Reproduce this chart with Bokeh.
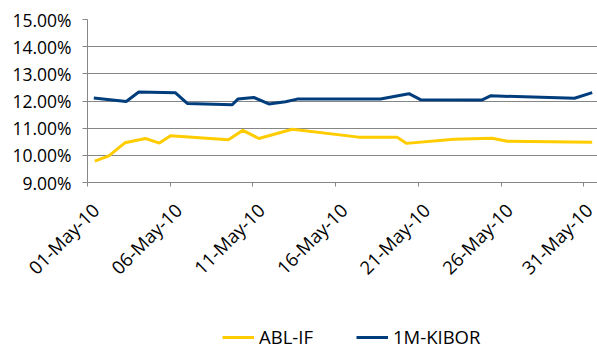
from bokeh.plotting import figure
from bokeh.layouts import column
from bokeh.models import (FixedTicker, PrintfTickFormatter, Legend, LegendItem,
                          Range1d, LinearAxis, CustomLabelingPolicy)
from bokeh.embed import file_html
from bokeh.resources import INLINE
import math

# x axis: day of May 2010 (positions)
tick_days = [1, 6, 11, 16, 21, 26, 31]
tick_labels = ["01-May-10", "06-May-10", "11-May-10", "16-May-10",
               "21-May-10", "26-May-10", "31-May-10"]
y_ticks = [9, 10, 11, 12, 13, 14, 15]

abl_days = [1.44, 2.29, 3.26, 4.51, 5.35, 6.02, 9.52, 10.39, 11.36, 13.38,
            17.40, 19.72, 20.29, 23.15, 25.47, 26.37, 31.51]
abl_rates = [9.79, 9.98, 10.46, 10.62, 10.45, 10.72, 10.57, 10.92, 10.62, 10.96,
             10.67, 10.67, 10.44, 10.59, 10.63, 10.52, 10.48]

kibor_days = [1.38, 3.34, 4.10, 6.32, 7.03, 9.75, 10.09, 11.05, 11.96, 12.97,
              13.68, 18.71, 20.43, 21.13, 24.86, 25.36, 30.44, 31.51]
kibor_rates = [12.11, 11.98, 12.33, 12.30, 11.91, 11.86, 12.07, 12.13, 11.89, 11.97,
               12.07, 12.07, 12.27, 12.05, 12.04, 12.19, 12.10, 12.31]

series_names = ["ABL-IF", "1M-KIBOR"]
series_colors = ["#FFCC00", "#003D7C"]

FONT = "Open Sans"
GRID = "#868686"
LABEL_SHIFT = 0.48  # rotated labels sit a little right of their ticks

p = figure(width=597, height=319, output_backend="svg", toolbar_location=None,
           x_range=Range1d(1, 31.83), y_range=Range1d(9, 15),
           min_border_left=87, min_border_right=0, min_border_top=19,
           min_border_bottom=137)
p.outline_line_color = None
p.background_fill_color = "white"
p.border_fill_color = "white"

p.line(abl_days, abl_rates, line_color=series_colors[0], line_width=3)
p.line(kibor_days, kibor_rates, line_color=series_colors[1], line_width=3)

p.xgrid.grid_line_color = None
p.ygrid.grid_line_color = GRID
p.ygrid.grid_line_width = 1

p.yaxis.ticker = FixedTicker(ticks=y_ticks)
p.yaxis.formatter = PrintfTickFormatter(format="%.2f%%")
p.yaxis.minor_tick_line_color = None
p.yaxis.major_tick_in = 0
p.yaxis.major_tick_out = 5
p.yaxis.major_label_standoff = 11
p.yaxis.axis_line_color = GRID
p.yaxis.major_tick_line_color = GRID
p.yaxis.major_label_text_font = FONT
p.yaxis.major_label_text_font_size = "17.5px"
p.yaxis.major_label_text_color = "black"

# main x axis: line and tick marks only (its labels are all filtered out)
p.xaxis.ticker = FixedTicker(ticks=tick_days)
p.xaxis.minor_tick_line_color = None
p.xaxis.major_tick_in = 0
p.xaxis.major_tick_out = 4
p.xaxis.major_label_standoff = 0
p.xaxis.major_label_text_font = FONT
p.xaxis.major_label_text_font_size = "1px"
p.xaxis.major_label_policy = CustomLabelingPolicy(
    code="const all = [...indices]; for (const i of all) indices.unset(i)")
p.xaxis.axis_line_color = GRID
p.xaxis.major_tick_line_color = GRID

# date labels, rotated 45 degrees
label_ticks = [round(d + LABEL_SHIFT, 2) for d in tick_days]
label_axis = LinearAxis(ticker=FixedTicker(ticks=label_ticks),
                        major_label_overrides={t: l for t, l in zip(label_ticks, tick_labels)},
                        major_label_orientation=math.pi / 4,
                        axis_line_color=None, major_tick_line_color=None,
                        minor_tick_line_color=None, major_tick_in=0, major_tick_out=0,
                        major_label_standoff=15,
                        major_label_text_font=FONT, major_label_text_font_size="18.5px",
                        major_label_text_color="black")
p.add_layout(label_axis, "below")

# legend strip below the chart (its lines are outside the strip's view)
p2 = figure(width=597, height=30, output_backend="svg", toolbar_location=None,
            x_range=Range1d(0, 1), y_range=Range1d(0, 1),
            x_axis_type=None, y_axis_type=None,
            min_border_left=0, min_border_right=0, min_border_top=0,
            min_border_bottom=0)
p2.outline_line_color = None
p2.grid.visible = False
l1 = p2.line(abl_days, abl_rates, line_color=series_colors[0], line_width=3)
l2 = p2.line(kibor_days, kibor_rates, line_color=series_colors[1], line_width=3)

legend = Legend(items=[LegendItem(label=series_names[0], renderers=[l1]),
                       LegendItem(label=series_names[1], renderers=[l2])],
                orientation="horizontal", location=(135, 0),
                glyph_width=32, glyph_height=16, label_standoff=5, spacing=43,
                padding=0, margin=0, border_line_alpha=0, background_fill_alpha=0,
                label_text_font=FONT, label_text_font_size="18.5px",
                label_text_color="black")
p2.add_layout(legend)

layout = column(p, p2, spacing=0)
open("out.html", "w").write(file_html(layout, INLINE))
